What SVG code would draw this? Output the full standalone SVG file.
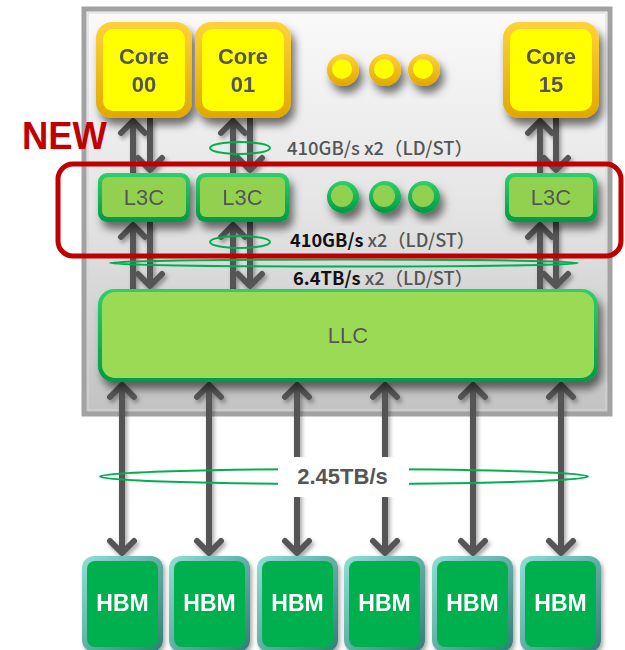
<svg xmlns="http://www.w3.org/2000/svg" width="625" height="650" viewBox="0 0 625 650">
<style>
.core-o{fill:url(#gold)}
.core-i{fill:#FFFF00}
.l3-o{fill:url(#grn)}
.l3-i{fill:#92D050}
.hbm-o{fill:url(#teal)}
.hbm-i{fill:#00B050}
.t-core{font-family:"Liberation Sans",Arial,sans-serif;font-weight:bold;font-size:22px;fill:#555;text-anchor:middle}
.t-l3{font-family:"Liberation Sans",Arial,sans-serif;font-size:22px;fill:#555;text-anchor:middle}
.t-hbm{font-family:"Liberation Sans",Arial,sans-serif;font-weight:bold;font-size:23px;fill:#fff;text-anchor:middle}
.t-bw{font-family:"Noto Sans CJK JP","Noto Sans",sans-serif;font-weight:500;font-size:18px;fill:#555}
.b{font-weight:bold;fill:#111}
.arr{stroke:#555;stroke-width:6;fill:none}
.ell{fill:none;stroke:#00B050;stroke-width:2}
</style>
<defs>
<linearGradient id="box" x1="0" y1="0" x2="0" y2="1">
<stop offset="0" stop-color="#fafafa"/><stop offset="0.5" stop-color="#e4e4e4"/><stop offset="1" stop-color="#c2c2c2"/>
</linearGradient>
<linearGradient id="gold" x1="0" y1="0" x2="0" y2="1">
<stop offset="0" stop-color="#FFD23A"/><stop offset="1" stop-color="#E0A800"/>
</linearGradient>
<linearGradient id="grn" x1="0" y1="0" x2="0" y2="1">
<stop offset="0" stop-color="#2ED06A"/><stop offset="1" stop-color="#009A45"/>
</linearGradient>
<linearGradient id="teal" x1="0" y1="0" x2="1" y2="1">
<stop offset="0" stop-color="#8FE0D4"/><stop offset="1" stop-color="#2F7F75"/>
</linearGradient>
<filter id="sh" x="-20%" y="-20%" width="150%" height="160%">
<feDropShadow dx="4" dy="7" stdDeviation="4" flood-color="#000" flood-opacity="0.55"/>
</filter>
<filter id="sh2" x="-20%" y="-20%" width="150%" height="160%">
<feDropShadow dx="2" dy="3" stdDeviation="2" flood-color="#000" flood-opacity="0.35"/>
</filter>
<marker id="ah" viewBox="-16 -16 20 32" markerWidth="20" markerHeight="32" refX="0" refY="0" orient="auto-start-reverse" markerUnits="userSpaceOnUse">
<path d="M-12,-12 L0,0 L-12,12" fill="none" stroke="#555" stroke-width="6" stroke-linejoin="round" stroke-linecap="round"/>
</marker>
</defs>

<g id="chip">
<rect x="84" y="9" width="526" height="405" fill="url(#box)" stroke="#a2a2a2" stroke-width="5"/>
<rect x="88" y="13" width="518" height="397" fill="none" stroke="#d6d6d6" stroke-width="1"/>
</g>

<g id="connectors" filter="url(#sh2)">
<path class="arr" d="M133,173 V121" marker-end="url(#ah)"/>
<path class="arr" d="M233,173 V121" marker-end="url(#ah)"/>
<path class="arr" d="M540,173 V121" marker-end="url(#ah)"/>
<path class="arr" d="M150,118 V170" marker-end="url(#ah)"/>
<path class="arr" d="M250,118 V170" marker-end="url(#ah)"/>
<path class="arr" d="M556,118 V170" marker-end="url(#ah)"/>
<path class="arr" d="M133,289 V225" marker-end="url(#ah)"/>
<path class="arr" d="M233,289 V225" marker-end="url(#ah)"/>
<path class="arr" d="M540,289 V225" marker-end="url(#ah)"/>
<path class="arr" d="M150,222 V286" marker-end="url(#ah)"/>
<path class="arr" d="M250,222 V286" marker-end="url(#ah)"/>
<path class="arr" d="M556,222 V286" marker-end="url(#ah)"/>
<path class="arr" d="M122,385 V553" marker-start="url(#ah)" marker-end="url(#ah)"/>
<path class="arr" d="M209,385 V553" marker-start="url(#ah)" marker-end="url(#ah)"/>
<path class="arr" d="M297,385 V553" marker-start="url(#ah)" marker-end="url(#ah)"/>
<path class="arr" d="M385,385 V553" marker-start="url(#ah)" marker-end="url(#ah)"/>
<path class="arr" d="M473,385 V553" marker-start="url(#ah)" marker-end="url(#ah)"/>
<path class="arr" d="M561,385 V553" marker-start="url(#ah)" marker-end="url(#ah)"/>
</g>

<g id="core00" filter="url(#sh)">
<rect class="core-o" x="96" y="22" width="96" height="96" rx="16"/>
<rect class="core-i" x="103" y="29" width="82" height="82" rx="10"/>
<text class="t-core" x="144" y="64">Core</text>
<text class="t-core" x="144" y="92">00</text>
</g>
<g id="core01" filter="url(#sh)">
<rect class="core-o" x="195" y="22" width="96" height="96" rx="16"/>
<rect class="core-i" x="202" y="29" width="82" height="82" rx="10"/>
<text class="t-core" x="243" y="64">Core</text>
<text class="t-core" x="243" y="92">01</text>
</g>
<g id="core15" filter="url(#sh)">
<rect class="core-o" x="503" y="22" width="96" height="96" rx="16"/>
<rect class="core-i" x="510" y="29" width="82" height="82" rx="10"/>
<text class="t-core" x="551" y="64">Core</text>
<text class="t-core" x="551" y="92">15</text>
</g>
<g id="core-dots" filter="url(#sh)">
<circle cx="343" cy="70" r="16" fill="url(#gold)"/><circle cx="342" cy="69" r="10" fill="#FFFF00"/>
<circle cx="385" cy="70" r="16" fill="url(#gold)"/><circle cx="384" cy="69" r="10" fill="#FFFF00"/>
<circle cx="424" cy="70" r="16" fill="url(#gold)"/><circle cx="423" cy="69" r="10" fill="#FFFF00"/>
</g>

<g id="l3c-0" filter="url(#sh)">
<rect class="l3-o" x="98" y="173" width="92" height="49" rx="9"/>
<rect class="l3-i" x="102" y="177" width="84" height="40" rx="6"/>
<text class="t-l3" x="144" y="205">L3C</text>
</g>
<g id="l3c-1" filter="url(#sh)">
<rect class="l3-o" x="196" y="173" width="93" height="49" rx="9"/>
<rect class="l3-i" x="200" y="177" width="85" height="40" rx="6"/>
<text class="t-l3" x="242.5" y="205">L3C</text>
</g>
<g id="l3c-15" filter="url(#sh)">
<rect class="l3-o" x="505" y="173" width="92" height="49" rx="9"/>
<rect class="l3-i" x="509" y="177" width="84" height="40" rx="6"/>
<text class="t-l3" x="551" y="205">L3C</text>
</g>
<g id="l3c-dots" filter="url(#sh)">
<circle cx="343" cy="197" r="16" fill="url(#grn)"/><circle cx="342" cy="196" r="11" fill="#92D050"/>
<circle cx="385" cy="197" r="16" fill="url(#grn)"/><circle cx="384" cy="196" r="11" fill="#92D050"/>
<circle cx="424" cy="197" r="16" fill="url(#grn)"/><circle cx="423" cy="196" r="11" fill="#92D050"/>
</g>

<g id="llc" filter="url(#sh)">
<rect class="l3-o" x="98" y="289" width="500" height="93" rx="16"/>
<rect x="102" y="292" width="492" height="86" rx="13" fill="#9ADA55"/>
<text class="t-l3" x="348" y="343">LLC</text>
</g>

<g id="hbm" filter="url(#sh2)">
<g id="hbm0"><rect class="hbm-o" x="82" y="556" width="81" height="96" rx="12"/><rect class="hbm-i" x="87" y="561" width="71" height="86" rx="8"/><text class="t-hbm" x="122.5" y="611">HBM</text></g>
<g id="hbm1"><rect class="hbm-o" x="169" y="556" width="81" height="96" rx="12"/><rect class="hbm-i" x="174" y="561" width="71" height="86" rx="8"/><text class="t-hbm" x="209.5" y="611">HBM</text></g>
<g id="hbm2"><rect class="hbm-o" x="257" y="556" width="81" height="96" rx="12"/><rect class="hbm-i" x="262" y="561" width="71" height="86" rx="8"/><text class="t-hbm" x="297.5" y="611">HBM</text></g>
<g id="hbm3"><rect class="hbm-o" x="344" y="556" width="81" height="96" rx="12"/><rect class="hbm-i" x="349" y="561" width="71" height="86" rx="8"/><text class="t-hbm" x="384.5" y="611">HBM</text></g>
<g id="hbm4"><rect class="hbm-o" x="432" y="556" width="81" height="96" rx="12"/><rect class="hbm-i" x="437" y="561" width="71" height="86" rx="8"/><text class="t-hbm" x="472.5" y="611">HBM</text></g>
<g id="hbm5"><rect class="hbm-o" x="520" y="556" width="81" height="96" rx="12"/><rect class="hbm-i" x="525" y="561" width="71" height="86" rx="8"/><text class="t-hbm" x="560.5" y="611">HBM</text></g>
</g>

<g id="bandwidth">
<ellipse class="ell" cx="240" cy="148" rx="30" ry="6"/>
<ellipse class="ell" cx="240" cy="242" rx="30" ry="6"/>
<ellipse class="ell" cx="344" cy="263" rx="234" ry="3.5"/>
<text class="t-bw" x="287" y="155" textLength="186" lengthAdjust="spacingAndGlyphs">410GB/s x2（LD/ST）</text>
<text class="t-bw" x="290" y="247" textLength="185" lengthAdjust="spacingAndGlyphs"><tspan class="b">410GB/s</tspan> x2（LD/ST）</text>
<text class="t-bw" x="293" y="285" textLength="180" lengthAdjust="spacingAndGlyphs"><tspan class="b">6.4TB/s</tspan> x2（LD/ST）</text>
<ellipse cx="344" cy="476.5" rx="244" ry="7.5" fill="none" stroke="#00B050" stroke-width="2"/>
<rect x="278" y="457" width="131" height="40" fill="#fff"/>
<text x="342.5" y="484" text-anchor="middle" font-family="Liberation Sans,Arial,sans-serif" font-weight="bold" font-size="22" fill="#555">2.45TB/s</text>
</g>

<g id="new-highlight">
<rect x="58" y="164" width="563" height="92" rx="15" fill="none" stroke="#C00000" stroke-width="5"/>
<text x="22" y="149" font-family="Liberation Sans,Arial,sans-serif" font-weight="bold" font-size="38" fill="#C00000" textLength="85" lengthAdjust="spacingAndGlyphs">NEW</text>
</g>
</svg>
